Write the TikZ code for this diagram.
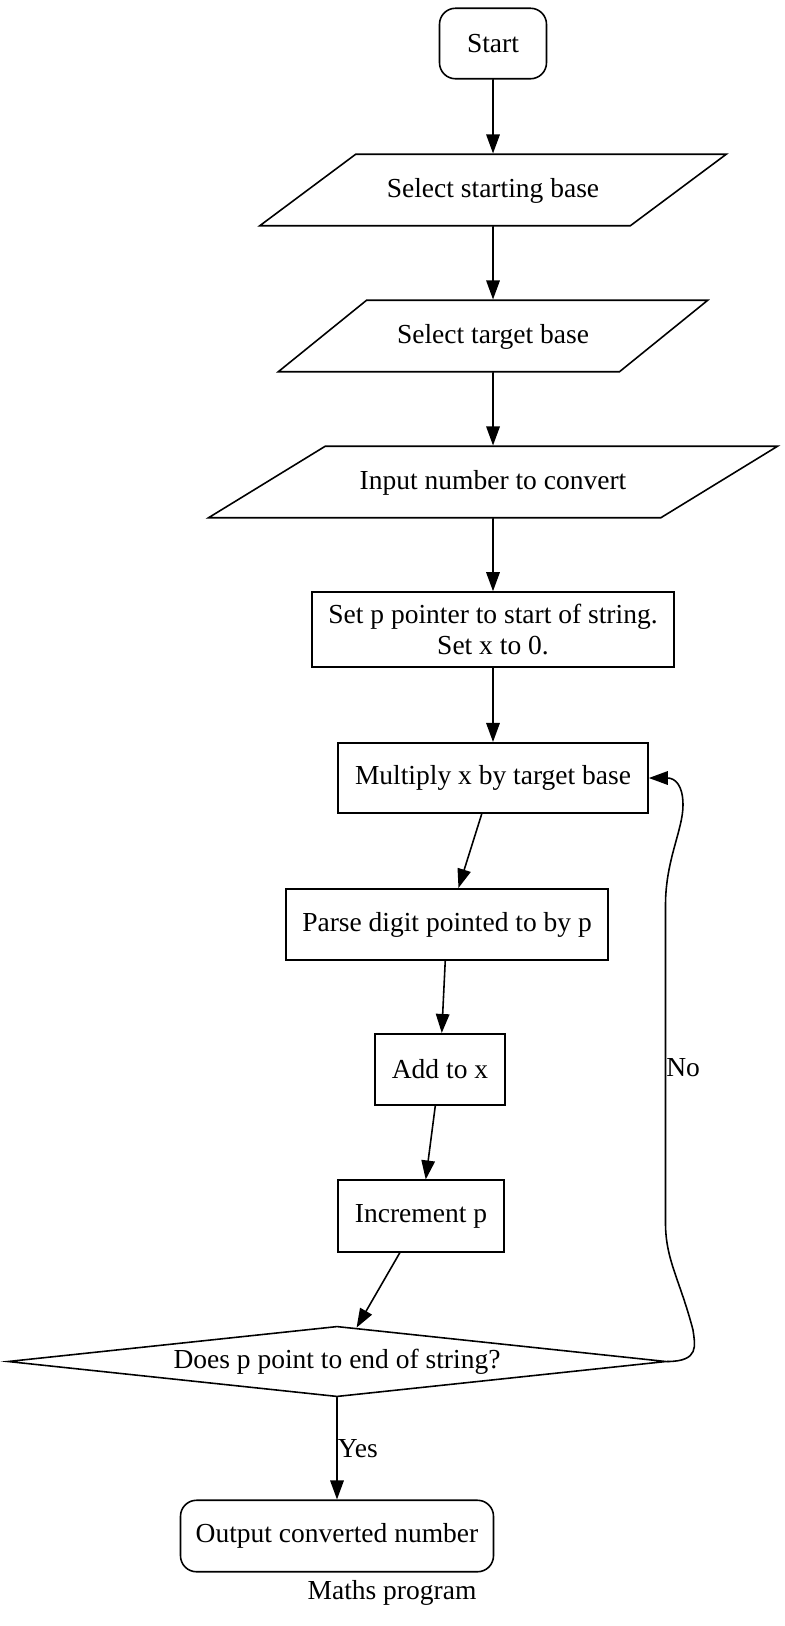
\documentclass[tikz,border=0pt]{standalone}
\usepackage{fontspec}
\setmainfont{Liberation Serif}
\usetikzlibrary{shapes.geometric,arrows.meta}

\begin{document}
\begin{tikzpicture}[line cap=round,
    font=\fontsize{15.65pt}{17.2pt}\selectfont,
    box/.style={draw, line width=0.9pt, inner sep=0pt, minimum height=1.43cm},
    term/.style={box, rounded corners=0.32cm},
    io/.style={box, shape=trapezium, trapezium stretches body=true,
      text height=0.45cm, text depth=0.14cm, inner ysep=0.42cm},
    test/.style={box, shape=diamond, aspect=9.3, minimum height=1.41cm},
    flow/.style={line width=0.9pt, -{Triangle[length=0.38cm, width=0.27cm]}}]
  \useasboundingbox (0,0) rectangle (15.7,-32.52);
  % 输入部分
  \node[term, minimum width=2.14cm, minimum height=1.41cm] (start) at (9.86,-0.87) {Start};
  \node[io, trapezium left angle=36.7, trapezium right angle=143.3, minimum width=9.33cm] (sbase) at (9.86,-3.80) {Select starting base};
  \node[io, trapezium left angle=39, trapezium right angle=141, minimum width=8.59cm] (tbase) at (9.86,-6.72) {Select target base};
  \node[io, trapezium left angle=31.5, trapezium right angle=148.5, minimum width=11.38cm] (input) at (9.86,-9.64) {Input number to convert};
  \node[box, minimum width=7.24cm, minimum height=1.50cm, align=center] (setp) at (9.86,-12.59) {Set p pointer to start of string.\\Set x to 0.};
  % 循环
  \node[box, minimum width=6.20cm, minimum height=1.41cm] (mult) at (9.86,-15.56) {Multiply x by target base};
  \node[box, minimum width=6.43cm] (parse) at (8.94,-18.49) {Parse digit pointed to by p};
  \node[box, minimum width=2.60cm] (add) at (8.80,-21.39) {Add to x};
  \node[box, minimum width=3.32cm] (inc) at (8.42,-24.32) {Increment p};
  \node[test, minimum width=13.17cm] (dec) at (6.74,-27.23) {Does p point to end of string?};
  \node[term, minimum width=6.26cm] (out) at (6.74,-30.72) {Output converted number};
  \node (title) at (7.84,-31.86) {Maths program};
  \draw[flow] (start) -- (sbase);
  \draw[flow] (sbase) -- (tbase);
  \draw[flow] (tbase) -- (input);
  \draw[flow] (input) -- (setp);
  \draw[flow] (setp) -- (mult);
  \draw[flow] (mult) -- (parse);
  \draw[flow] (parse) -- (add);
  \draw[flow] (add) -- (inc);
  \draw[flow] (inc) -- (dec);
  \draw[flow] (dec) -- node[right, inner sep=0pt] {Yes} (out);
  \coordinate (nlow) at (13.31,-24.46);
  \coordinate (nhigh) at (13.31,-18.1);
  \draw[flow] (dec.east) .. controls (14.0,-27.23) and (13.9,-26.9) .. (13.86,-26.6)
    .. controls (13.6,-25.6) and (13.31,-25.2) .. (nlow)
    -- node[pos=0.49, right, inner sep=0pt] {No} (nhigh)
    .. controls (13.31,-17.2) and (13.66,-16.6) .. (13.66,-16.1)
    .. controls (13.66,-15.7) and (13.5,-15.56) .. (mult.east);
\end{tikzpicture}
\end{document}
